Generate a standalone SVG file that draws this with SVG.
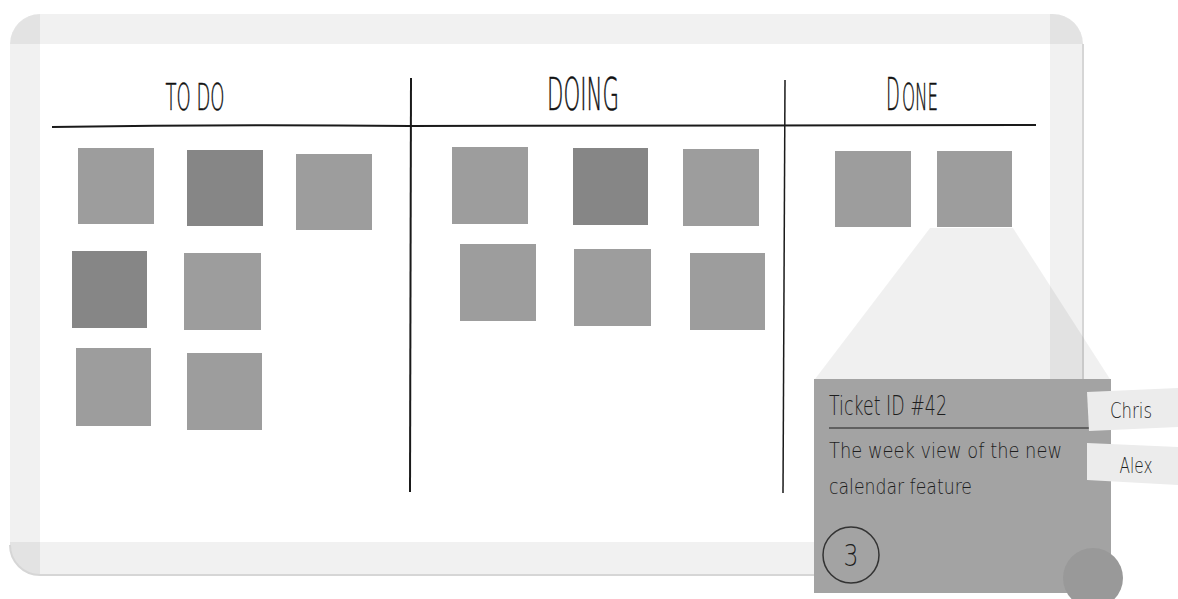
<svg xmlns="http://www.w3.org/2000/svg" width="1178" height="599" viewBox="0 0 1178 599">
<style>
.band{fill:#000;fill-opacity:0.055}
.note{fill:#9d9d9d}
.dark{fill:#868686}
.hdr{font-family:"DejaVu Sans","Liberation Sans",Arial,sans-serif;font-weight:200;fill:#111;stroke:#111;stroke-width:0.5}
.txt{font-family:"DejaVu Sans","Liberation Sans",Arial,sans-serif;font-weight:200;fill:#1e1e1e}
.rule{stroke:#1a1a1a;fill:none}
</style>
<defs>
<clipPath id="boardClip"><rect x="10" y="14" width="1073" height="561" rx="30" ry="30"/></clipPath>
</defs>
<rect width="1178" height="599" fill="#ffffff"/>
<g id="board">
<rect x="10" y="14" width="1073" height="561" rx="30" ry="30" fill="#ffffff"/>
<g clip-path="url(#boardClip)">
<rect class="band" x="10" y="14" width="1073" height="30"/>
<rect class="band" x="10" y="14" width="30" height="561"/>
<rect class="band" x="1050" y="14" width="33" height="561"/>
<rect class="band" x="10" y="542" width="1073" height="33"/>
</g>
<path d="M10 545 A30 30 0 0 0 40 575 L1053 575 A30 30 0 0 0 1083 545 L1083 44" fill="none" stroke="#d6d6d6" stroke-width="2"/>
</g>
<g id="headers">
<text class="hdr" x="195" y="110" font-size="37" text-anchor="middle" textLength="59" lengthAdjust="spacingAndGlyphs">TO DO</text>
<text class="hdr" x="583" y="110" font-size="44" text-anchor="middle" textLength="72" lengthAdjust="spacingAndGlyphs">DOING</text>
<text class="hdr" transform="translate(886,110) scale(0.41,1)" font-size="44">D</text>
<text class="hdr" transform="translate(902,110) scale(0.45,1)" font-size="37">ONE</text>
</g>
<g id="connectors">
<path class="rule" d="M52 127 Q230 124 410 126 L1036 125" stroke-width="2"/>
<line class="rule" x1="411" y1="78" x2="410" y2="492" stroke-width="2"/>
<line class="rule" x1="785" y1="80" x2="783" y2="493" stroke-width="1.5" stroke="#333"/>
</g>
<g id="todo">
<rect class="note" x="78" y="148" width="76" height="76"/>
<rect class="dark" x="187" y="150" width="76" height="76"/>
<rect class="note" x="296" y="154" width="76" height="76"/>
<rect class="dark" x="72" y="251" width="75" height="77"/>
<rect class="note" x="184" y="253" width="77" height="77"/>
<rect class="note" x="76" y="348" width="75" height="78" fill="#989898"/>
<rect class="note" x="187" y="353" width="75" height="77"/>
</g>
<g id="doing">
<rect class="note" x="452" y="147" width="76" height="77"/>
<rect class="dark" x="573" y="148" width="75" height="77"/>
<rect class="note" x="683" y="149" width="76" height="77"/>
<rect class="note" x="460" y="244" width="76" height="77"/>
<rect class="note" x="574" y="249" width="77" height="77"/>
<rect class="note" x="690" y="253" width="75" height="77"/>
</g>
<g id="done">
<rect class="note" x="835" y="151" width="76" height="76" fill="#999"/>
<rect class="note" x="937" y="151" width="75" height="76" fill="#a0a0a0"/>
</g>
<g id="zoom">
<polygon points="930,228 1013,228 1110,379 815,379" fill="#000" fill-opacity="0.06"/>
</g>
<g id="ticket">
<rect x="814" y="379" width="297" height="214" fill="#a3a3a3"/>
<text class="txt" x="829" y="415" font-size="26" textLength="118" lengthAdjust="spacingAndGlyphs">Ticket ID #42</text>
<line x1="829" y1="428" x2="1090" y2="428" stroke="#4a4a4a" stroke-width="1.5"/>
<text class="txt" x="829" y="458" font-size="21" textLength="233" lengthAdjust="spacingAndGlyphs">The week view of the new</text>
<text class="txt" x="829" y="494" font-size="21" textLength="143" lengthAdjust="spacingAndGlyphs">calendar feature</text>
<circle cx="851" cy="555" r="28" fill="none" stroke="#333" stroke-width="1.5"/>
<text class="txt" x="851" y="566" font-size="30" text-anchor="middle" textLength="15" lengthAdjust="spacingAndGlyphs">3</text>
<circle cx="1093" cy="578" r="30" fill="#999"/>
</g>
<g id="chris">
<polygon points="1087,392 1178,388 1178,427 1089,431" fill="#ececec"/>
<text class="txt" x="1131" y="418" font-size="22" text-anchor="middle" textLength="42" lengthAdjust="spacingAndGlyphs">Chris</text>
</g>
<g id="alex">
<polygon points="1087,443 1178,447 1178,485 1087,480" fill="#ececec"/>
<text class="txt" x="1136" y="473" font-size="22" text-anchor="middle" textLength="33" lengthAdjust="spacingAndGlyphs">Alex</text>
</g>
</svg>
